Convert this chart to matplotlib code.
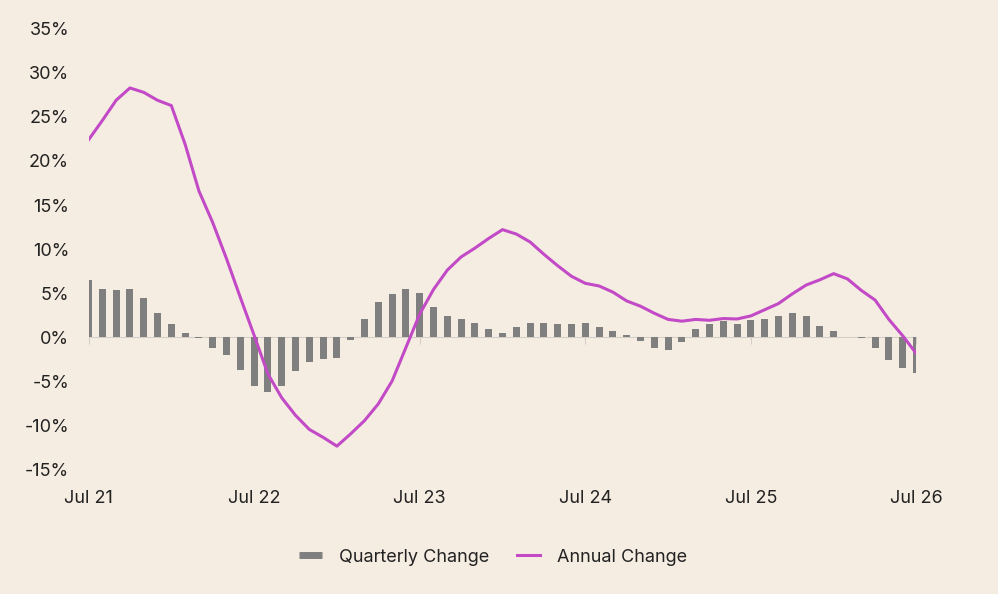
import matplotlib
matplotlib.use('Agg')
import matplotlib.pyplot as plt
from matplotlib.lines import Line2D

# Monthly series, Jul 21 .. Jul 26 (61 months)
tick_labels = ['Jul 21', 'Jul 22', 'Jul 23', 'Jul 24', 'Jul 25', 'Jul 26']

quarterly = [6.5, 5.45, 5.3, 5.5, 4.4, 2.7, 1.5, 0.4, -0.1, -1.2,
             -2.1, -3.7, -5.6, -6.3, -5.6, -3.9, -2.8, -2.5, -2.4, -0.35,
             2.0, 4.0, 4.9, 5.4, 4.95, 3.45, 2.4, 2.1, 1.55, 0.9,
             0.45, 1.1, 1.6, 1.6, 1.5, 1.5, 1.55, 1.1, 0.7, 0.25,
             -0.5, -1.3, -1.5, -0.6, 0.9, 1.5, 1.8, 1.5, 1.95, 2.1,
             2.4, 2.75, 2.35, 1.25, 0.65, 0.05, -0.1, -1.3, -2.6, -3.5,
             -4.1]

annual = [22.4, 24.6, 26.9, 28.3, 27.8, 26.9, 26.3, 21.9, 16.6, 13.0,
          8.9, 4.5, 0.2, -4.2, -6.9, -8.9, -10.5, -11.4, -12.4, -11.0,
          -9.5, -7.6, -5.0, -1.2, 2.6, 5.4, 7.6, 9.1, 10.1, 11.2,
          12.2, 11.7, 10.8, 9.4, 8.1, 6.9, 6.1, 5.8, 5.1, 4.1,
          3.5, 2.7, 2.0, 1.8, 2.0, 1.9, 2.1, 2.05, 2.4, 3.1,
          3.8, 4.9, 5.9, 6.5, 7.2, 6.6, 5.3, 4.2, 2.0, 0.15,
          -1.9]

bg = '#F6EDE2'
bar_color = '#7F7F7F'
line_color = '#C24AC6'
text_color = '#222222'
fs = 13

plt.rcParams['font.family'] = ['Inter', 'DejaVu Sans']
plt.rcParams['axes.unicode_minus'] = False

fig = plt.figure(figsize=(9.98, 5.94), dpi=100, facecolor=bg)
ax = fig.add_axes([0.0887, 0.2104, 0.8296, 0.7408], facecolor=bg)

months = list(range(len(quarterly)))
ax.bar(months, quarterly, width=0.5, color=bar_color, zorder=2)
ax.plot(months, annual, color=line_color, linewidth=2.2, zorder=3)

ax.set_xlim(0, len(quarterly) - 1)
ax.set_ylim(-15, 35)

# y axis
yticks = list(range(-15, 40, 5))
ax.set_yticks(yticks)
ax.set_yticklabels([f'{v}%' for v in yticks])
ax.tick_params(axis='y', length=0, pad=14, labelsize=fs, labelcolor=text_color)

# zero line with year ticks, labels at the bottom
for s in ['top', 'right', 'left']:
    ax.spines[s].set_visible(False)
ax.spines['bottom'].set_position(('data', 0))
ax.spines['bottom'].set_color('#D6CFC7')
ax.spines['bottom'].set_zorder(1)
year_pos = list(range(0, len(quarterly), 12))
ax.set_xticks(year_pos)
ax.tick_params(axis='x', length=5, color='#D6CFC7', labelbottom=False)

sec = ax.secondary_xaxis('bottom')
sec.set_xticks(year_pos)
sec.set_xticklabels(tick_labels)
sec.spines['bottom'].set_visible(False)
sec.tick_params(length=0, pad=15, labelsize=fs, labelcolor=text_color)

handles = [
    Line2D([0], [0], color=bar_color, linewidth=5, solid_capstyle='butt'),
    Line2D([0], [0], color=line_color, linewidth=2.2),
]
fig.legend(handles, ['Quarterly Change', 'Annual Change'],
           loc='center', bbox_to_anchor=(0.494, 0.062), ncol=2,
           frameon=False, fontsize=fs, labelcolor=text_color,
           handlelength=1.3, handletextpad=0.95, columnspacing=1.5)

fig.savefig('out.png', dpi=100, facecolor=bg)
plt.close(fig)
